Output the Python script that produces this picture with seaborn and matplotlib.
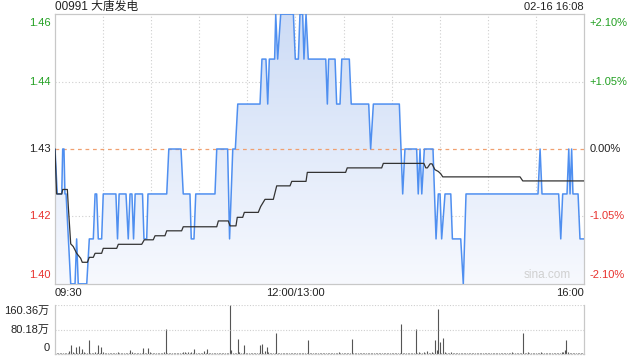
import numpy as np
import pandas as pd
import matplotlib
matplotlib.use("Agg")
import matplotlib.pyplot as plt
from matplotlib.colors import LinearSegmentedColormap
import seaborn as sns

# ---------------- data ----------------
title_text = "00991 大唐发电"
stamp_text = "02-16 16:08"
prev_close = 1.43

# price vertices (trading minute since 09:30, price)
price_t = [0, 1.4, 4.2, 4.8, 5.6, 6.2, 6.9, 9.8, 12.5, 13.5,
           14.5, 19.8, 21.4, 23.9, 25.0, 26.0, 27.0, 29.1, 30.1,
           38.0, 39.0, 40.0, 44.3, 45.7, 46.8, 48.0, 49.0, 50.0, 54.6,
           55.5, 57.2, 58.0, 69.7, 71.0, 78.6, 80.0, 84.2, 85.0, 86.7,
           87.8, 99.8, 100.9, 107.7, 108.9, 110.9, 112.5, 114.0, 127.9, 129.1,
           131.6, 132.7, 133.7, 137.0, 137.7, 138.9, 140.8, 148.7, 149.9, 151.8,
           152.8, 154.5, 155.3, 156.6, 158.0, 168.9, 169.9, 170.7, 174.7, 175.7,
           177.8, 178.9, 183.6, 184.8, 195.7, 196.9, 198.6, 214.8, 216.9, 218.3,
           225.6, 226.6, 227.7, 228.8, 230.4, 235.8, 237.7, 239.1, 240.2, 241.2,
           243.3, 246.9, 247.9, 253.1, 254.7, 256.4, 301.3, 302.6, 303.8, 314.2,
           315.5, 316.7, 319.4, 320.5, 321.3, 322.3, 323.1, 326.3, 327.5, 330]
price_v = [1.43, 1.42, 1.42, 1.43, 1.43, 1.42, 1.42, 1.40, 1.40, 1.41,
           1.40, 1.40, 1.41, 1.41, 1.42, 1.42, 1.41, 1.41, 1.42,
           1.42, 1.41, 1.42, 1.42, 1.41, 1.42, 1.42, 1.41, 1.42, 1.42,
           1.41, 1.41, 1.42, 1.42, 1.43, 1.43, 1.42, 1.42, 1.41, 1.41,
           1.42, 1.42, 1.43, 1.43, 1.41, 1.43, 1.43, 1.44, 1.44, 1.45,
           1.45, 1.44, 1.45, 1.45, 1.46, 1.45, 1.46, 1.46, 1.45, 1.45,
           1.46, 1.46, 1.45, 1.46, 1.45, 1.45, 1.44, 1.45, 1.45, 1.44,
           1.44, 1.45, 1.45, 1.44, 1.44, 1.43, 1.44, 1.44, 1.42, 1.43,
           1.43, 1.42, 1.43, 1.42, 1.43, 1.43, 1.41, 1.42, 1.42, 1.41,
           1.42, 1.42, 1.41, 1.41, 1.40, 1.42, 1.42, 1.43, 1.42, 1.42,
           1.41, 1.42, 1.42, 1.43, 1.42, 1.43, 1.42, 1.42, 1.41, 1.41]

# average price vertices
avg_t = [0, 1, 4.2, 4.8, 7.7, 8.3, 9.8, 11.4, 13.5, 16.0, 17.0, 20.2, 21.4, 23.9,
         25.0, 29.1, 30.1, 38.5, 39.5, 54.1, 55.7, 61.3, 62.4, 68.6, 69.7, 79.0,
         80.0, 100.9, 101.9, 108.1, 109.2, 112.9, 113.7, 117.1, 118.1, 126.8,
         128.3, 131.0, 136.2, 138.3, 146.6, 147.7, 156.6, 157.4, 181.3, 182.3,
         203.8, 204.8, 230.1, 231.3, 232.3, 234.0, 235.2, 237.0, 239.1, 240.6,
         241.9, 290.1, 291.8, 330]
avg_v = [1.430, 1.420, 1.420, 1.421, 1.421, 1.4172, 1.4089, 1.4083, 1.4068, 1.4057,
         1.4048, 1.4048, 1.4059, 1.4059, 1.4068, 1.4068, 1.4079, 1.4079, 1.4088,
         1.4088, 1.4098, 1.4098, 1.4107, 1.4107, 1.4118, 1.4118, 1.4127, 1.4127,
         1.4140, 1.4140, 1.4129, 1.4129, 1.4148, 1.4148, 1.4159, 1.4159, 1.4172,
         1.4188, 1.4188, 1.4218, 1.4218, 1.4228, 1.4228, 1.4248, 1.4248, 1.4258,
         1.4258, 1.4268, 1.4268, 1.4258, 1.4258, 1.4267, 1.4267, 1.4254, 1.4250,
         1.4245, 1.4238, 1.4238, 1.4229, 1.4229]

# volume per minute (万股)
volume = [
    3, 2, 2, 3, 2, 2, 3, 2, 3, 10, 30, 8, 3, 22, 4, 27, 3, 16, 6, 2, 3, 47, 3, 2, 3, 5, 2, 30, 3, 24,
    6, 2, 3, 2, 2, 3, 2, 2, 3, 5, 2, 3, 2, 2, 3, 2, 3, 14, 8, 2, 3, 2, 2, 3, 2, 20, 3, 2, 20, 5,
    2, 3, 2, 2, 3, 2, 3, 2, 7, 82, 3, 2, 2, 3, 2, 2, 3, 2, 3, 2, 5, 6, 4, 5, 3, 6, 2, 17, 3, 2,
    3, 2, 3, 9, 2, 17, 3, 2, 2, 3, 2, 2, 3, 2, 2, 3, 2, 3, 4, 160, 14, 3, 2, 4, 50, 6, 3, 2, 30, 3,
    2, 3, 2, 2, 3, 2, 3, 4, 31, 33, 3, 10, 22, 5, 3, 2, 3, 4, 70, 3, 2, 2, 3, 2, 2, 3, 2, 3, 2, 3,
    3, 2, 3, 2, 2, 3, 2, 3, 47, 3, 2, 3, 2, 2, 3, 2, 3, 2, 2, 3, 2, 3, 2, 2, 3, 2, 3, 5, 2, 3,
    2, 3, 2, 3, 2, 50, 3, 2, 2, 3, 2, 3, 2, 2, 3, 2, 3, 2, 2, 3, 2, 3, 2, 2, 3, 2, 3, 2, 2, 3,
    2, 3, 2, 3, 2, 4, 98, 3, 2, 3, 4, 2, 3, 2, 4, 81, 3, 6, 2, 3, 8, 3, 9, 3, 4, 8, 3, 47, 12, 147,
    38, 4, 53, 6, 3, 4, 2, 8, 3, 2, 4, 2, 3, 2, 4, 3, 2, 2, 3, 2, 2, 3, 2, 2, 3, 2, 2, 3, 2, 2,
    3, 2, 2, 3, 2, 2, 3, 2, 2, 3, 2, 2, 3, 2, 4, 6, 3, 2, 2, 3, 2, 3, 69, 3, 2, 5, 2, 3, 2, 2,
    3, 2, 3, 5, 2, 3, 2, 2, 3, 2, 3, 2, 3, 4, 2, 3, 5, 8, 14, 47, 6, 3, 2, 3, 2, 3, 2, 3, 2, 3,
    4]

left_ticks = [1.46, 1.445, 1.43, 1.415, 1.40]
left_labels = ["1.46", "1.44", "1.43", "1.42", "1.40"]
right_labels = ["+2.10%", "+1.05%", "0.00%", "-1.05%", "-2.10%"]
x_labels = ["09:30", "12:00/13:00", "16:00"]
vol_ticks = [160.36, 80.18, 0]
vol_labels = ["160.36万", "80.18万", "0"]

# ---------------- style ----------------
sns.set_theme(style="white")
plt.rcParams["font.family"] = ["Liberation Sans", "Noto Sans CJK SC", "DejaVu Sans"]

GREEN = "#22a022"
RED = "#e8322e"
DARK = "#222222"
BORDER = "#c8c8c8"
GRID = "#cfcfcf"
LINE = "#4f8ff0"

fig = plt.figure(figsize=(6.4, 3.6), dpi=100)
W, H = 640.0, 360.0
L, R = 55, 584
ax = fig.add_axes([L / W, (H - 284) / H, (R - L) / W, 270 / H])
axv = fig.add_axes([L / W, (H - 354) / H, (R - L) / W, 49 / H])

ylo, yhi = prev_close * (1 - 0.021), prev_close * (1 + 0.021)

# gradient fill under price line
pdf = pd.DataFrame({"t": price_t, "p": price_v})
poly = ax.fill_between(pdf["t"], pdf["p"], ylo, color="none", lw=0)
cmap = LinearSegmentedColormap.from_list("g", ["#cddcf6", "#f7f9fe"])
grad = np.linspace(0, 1, 256).reshape(-1, 1)
im = ax.imshow(grad, extent=[0, 330, ylo, yhi], aspect="auto", cmap=cmap,
               origin="upper", zorder=1)
im.set_clip_path(poly.get_paths()[0], transform=ax.transData)

# grid
for k in range(1, 11):
    ax.axvline(k * 30, color=GRID, lw=0.8, ls=(0, (1, 2)), zorder=0.5)
for yv in [1.445, 1.415]:
    ax.axhline(yv, color=GRID, lw=0.8, ls=(0, (1, 2)), zorder=0.5)
ax.axhline(prev_close, color="#f0a070", lw=0.9, ls=(0, (3, 3)), zorder=2)

sns.lineplot(data=pdf, x="t", y="p", ax=ax, color=LINE, lw=1.1,
             estimator=None, sort=False, zorder=4)
adf = pd.DataFrame({"t": avg_t, "p": avg_v})
sns.lineplot(data=adf, x="t", y="p", ax=ax, color="#333333", lw=0.9,
             estimator=None, sort=False, zorder=5)

ax.set_xlim(0, 330)
ax.set_ylim(ylo, yhi)
ax.set_xticks([])
ax.set_yticks([])
ax.set_xlabel("")
ax.set_ylabel("")
for s in ax.spines.values():
    s.set_color(BORDER)
    s.set_linewidth(0.9)

# y labels (left/right)
lcols = [GREEN, GREEN, DARK, RED, RED]
vas = ["top", "center", "center", "center", "bottom"]
offs = [-3, 0, 0, 0, 3]
for yv, lab, rl, c, va, o in zip(left_ticks, left_labels, right_labels, lcols, vas, offs):
    ax.annotate(lab, xy=(0, yv), xycoords=("axes fraction", "data"),
                xytext=(-3, o), textcoords="offset points", ha="right", va=va,
                fontsize=8, color=c)
    ax.annotate(rl, xy=(1, yv), xycoords=("axes fraction", "data"),
                xytext=(4, o), textcoords="offset points", ha="left", va=va,
                fontsize=8, color=c)

# x labels
for xv, lab, ha in zip([0, 150, 330], x_labels, ["left", "center", "right"]):
    ax.annotate(lab, xy=(xv, 0), xycoords=("data", "axes fraction"),
                xytext=(0, -3), textcoords="offset points", ha=ha, va="top",
                fontsize=8, color=DARK)

fig.text(L / W, 1 - 7 / H, title_text, ha="left", va="center", fontsize=8.5, color=DARK)
fig.text(R / W, 1 - 7.5 / H, stamp_text, ha="right", va="center", fontsize=8, color=DARK)
ax.text(0.975, 0.012, "sina.com", transform=ax.transAxes, ha="right", va="bottom",
        fontsize=8.5, color="#d0d0d0")

# volume panel
vt = np.arange(len(volume))
axv.vlines(vt, 0, volume, color="#555555", lw=0.8)
axv.set_xlim(0, 330)
axv.set_ylim(0, 160.36)
axv.axhline(80.18, color=GRID, lw=0.8, ls=(0, (1, 1.5)))
axv.axhline(160.36, color=GRID, lw=0.8, ls=(0, (1, 1.5)))
axv.set_xticks([])
axv.set_yticks([])
for k, s in axv.spines.items():
    s.set_color(BORDER)
    s.set_linewidth(0.9)
axv.spines["top"].set_visible(False)
axv.spines["bottom"].set_linestyle((0, (1, 1.5)))
for yv, lab, va in zip(vol_ticks, vol_labels, ["top", "center", "bottom"]):
    axv.annotate(lab, xy=(0, yv), xycoords=("axes fraction", "data"),
                 xytext=(-4, 0 if va == "center" else (-1 if va == "top" else 1)),
                 textcoords="offset points", ha="right", va=va,
                 fontsize=8, color=DARK)

fig.savefig("out.png", dpi=100)
